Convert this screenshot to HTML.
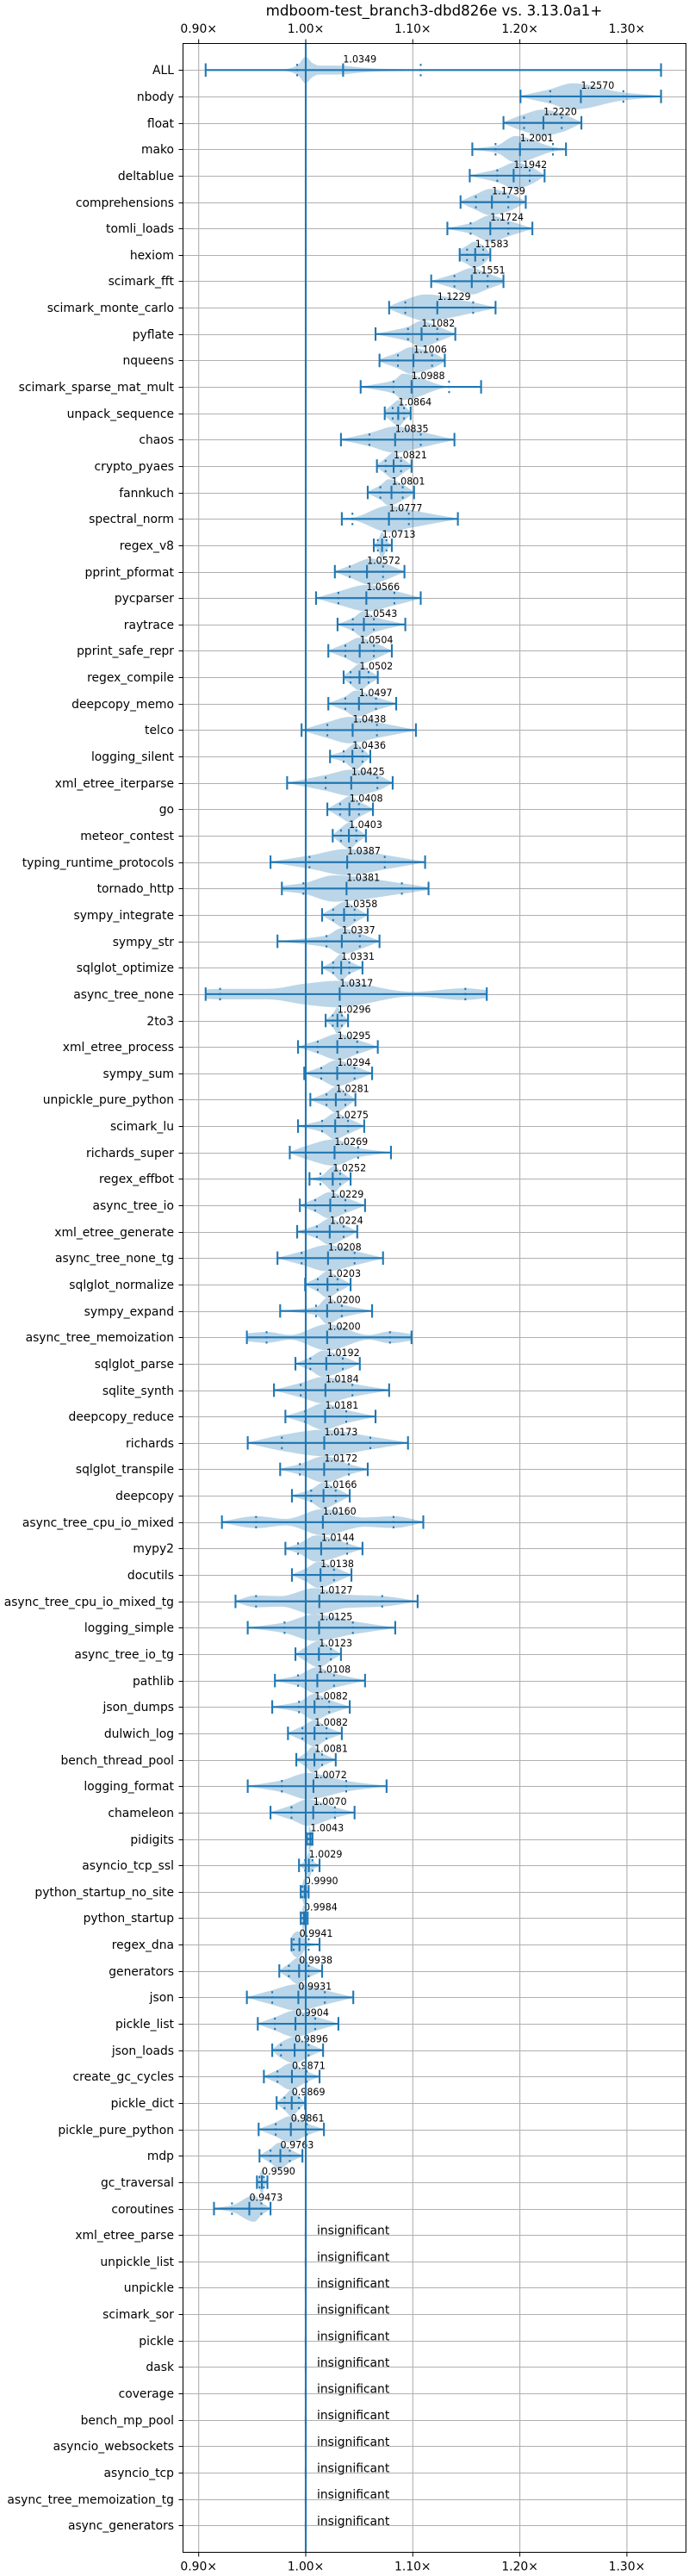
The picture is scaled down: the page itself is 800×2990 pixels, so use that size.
<!DOCTYPE html>
<html lang="en">
<head>
<meta charset="utf-8">
<title>mdboom-test_branch3-dbd826e vs. 3.13.0a1+</title>
<style>
html,body{margin:0;padding:0;background:#fff;width:800px;height:2990px;overflow:hidden}
svg{display:block}
text{font-family:"DejaVu Sans","Liberation Sans",sans-serif;fill:#000}
</style>
</head>
<body>
<svg id="chart" xmlns="http://www.w3.org/2000/svg" width="800" height="2990" viewBox="0 0 800 2990">
<rect x="0" y="0" width="800" height="2990" fill="#ffffff"/>
<text x="504" y="18" font-size="16.67" text-anchor="middle">mdboom-test_branch3-dbd826e vs. 3.13.0a1+</text>
</svg>
<script>
const benchmarkNames = ["ALL","nbody","float","mako","deltablue","comprehensions","tomli_loads","hexiom","scimark_fft","scimark_monte_carlo","pyflate","nqueens","scimark_sparse_mat_mult","unpack_sequence","chaos","crypto_pyaes","fannkuch","spectral_norm","regex_v8","pprint_pformat","pycparser","raytrace","pprint_safe_repr","regex_compile","deepcopy_memo","telco","logging_silent","xml_etree_iterparse","go","meteor_contest","typing_runtime_protocols","tornado_http","sympy_integrate","sympy_str","sqlglot_optimize","async_tree_none","2to3","xml_etree_process","sympy_sum","unpickle_pure_python","scimark_lu","richards_super","regex_effbot","async_tree_io","xml_etree_generate","async_tree_none_tg","sqlglot_normalize","sympy_expand","async_tree_memoization","sqlglot_parse","sqlite_synth","deepcopy_reduce","richards","sqlglot_transpile","deepcopy","async_tree_cpu_io_mixed","mypy2","docutils","async_tree_cpu_io_mixed_tg","logging_simple","async_tree_io_tg","pathlib","json_dumps","dulwich_log","bench_thread_pool","logging_format","chameleon","pidigits","asyncio_tcp_ssl","python_startup_no_site","python_startup","regex_dna","generators","json","pickle_list","json_loads","create_gc_cycles","pickle_dict","pickle_pure_python","mdp","gc_traversal","coroutines"];
const medians = [1.0349,1.2570,1.2220,1.2001,1.1942,1.1739,1.1724,1.1583,1.1551,1.1229,1.1082,1.1006,1.0988,1.0864,1.0835,1.0821,1.0801,1.0777,1.0713,1.0572,1.0566,1.0543,1.0504,1.0502,1.0497,1.0438,1.0436,1.0425,1.0408,1.0403,1.0387,1.0381,1.0358,1.0337,1.0331,1.0317,1.0296,1.0295,1.0294,1.0281,1.0275,1.0269,1.0252,1.0229,1.0224,1.0208,1.0203,1.0200,1.0200,1.0192,1.0184,1.0181,1.0173,1.0172,1.0166,1.0160,1.0144,1.0138,1.0127,1.0125,1.0123,1.0108,1.0082,1.0082,1.0081,1.0072,1.0070,1.0043,1.0029,0.9990,0.9984,0.9941,0.9938,0.9931,0.9904,0.9896,0.9871,0.9869,0.9861,0.9763,0.9590,0.9473];
const whiskerLow = [0.9065,1.2006,1.1847,1.1556,1.1532,1.1446,1.1323,1.1438,1.1172,1.0779,1.0652,1.0689,1.0513,1.0738,1.0329,1.0665,1.0579,1.0337,1.0636,1.0272,1.0096,1.0297,1.0211,1.0354,1.0211,0.9961,1.0227,0.9826,1.0202,1.0252,0.9671,0.9777,1.0153,0.9736,1.0153,0.9065,1.0186,0.9928,0.9986,1.0043,0.9928,0.9851,1.0035,0.9945,0.9920,0.9736,0.9994,0.9761,0.9450,0.9904,0.9703,0.9810,0.9458,0.9761,0.9871,0.9217,0.9810,0.9871,0.9344,0.9458,0.9904,0.9712,0.9687,0.9834,0.9912,0.9458,0.9671,1.0010,0.9937,0.9953,0.9953,0.9867,0.9753,0.9450,0.9552,0.9687,0.9609,0.9728,0.9560,0.9568,0.9544,0.9143];
const quartileLow = [0.9920,1.2284,1.2039,1.1773,1.1789,1.1589,1.1540,1.1507,1.1389,1.0930,1.0955,1.0861,1.0820,1.0812,1.0595,1.0746,1.0697,1.0436,1.0673,1.0411,1.0305,1.0440,1.0370,1.0419,1.0370,1.0202,1.0354,1.0186,1.0321,1.0329,1.0035,0.9978,1.0256,1.0194,1.0256,0.9200,1.0252,1.0112,1.0145,1.0194,1.0153,1.0002,1.0137,1.0088,1.0104,0.9961,1.0112,1.0096,0.9634,1.0043,0.9953,0.9994,0.9777,0.9945,1.0051,0.9536,0.9928,1.0002,0.9536,0.9802,1.0002,0.9928,0.9937,0.9969,1.0002,0.9777,0.9867,1.0027,0.9994,0.9969,0.9969,0.9888,0.9843,0.9687,0.9712,0.9769,0.9736,0.9802,0.9720,0.9671,0.9568,0.9311];
const quartileHigh = [1.1074,1.2967,1.2391,1.2309,1.2092,1.1892,1.1892,1.1658,1.1699,1.1564,1.1229,1.1180,1.1339,1.0918,1.1074,1.0890,1.0906,1.0963,1.0755,1.0722,1.0828,1.0636,1.0636,1.0587,1.0656,1.0665,1.0530,1.0669,1.0497,1.0472,1.0738,1.0898,1.0456,1.0505,1.0407,1.1491,1.0337,1.0481,1.0456,1.0370,1.0395,1.0489,1.0321,1.0370,1.0354,1.0456,1.0297,1.0337,1.0787,1.0346,1.0436,1.0378,1.0603,1.0403,1.0280,1.0820,1.0387,1.0264,1.0714,1.0440,1.0235,1.0264,1.0219,1.0194,1.0153,1.0378,1.0272,1.0051,1.0063,1.0002,0.9994,1.0027,1.0027,1.0178,1.0088,1.0027,1.0010,0.9937,1.0010,0.9851,0.9609,0.9585];
const whiskerHigh = [1.3319,1.3319,1.2575,1.2431,1.2231,1.2055,1.2117,1.1724,1.1847,1.1773,1.1397,1.1299,1.1638,1.0980,1.1389,1.0988,1.1012,1.1421,1.0804,1.0922,1.1074,1.0930,1.0804,1.0673,1.0845,1.1029,1.0603,1.0812,1.0628,1.0562,1.1115,1.1147,1.0579,1.0689,1.0530,1.1691,1.0395,1.0673,1.0620,1.0464,1.0546,1.0796,1.0419,1.0554,1.0481,1.0722,1.0419,1.0620,1.0988,1.0505,1.0779,1.0652,1.0955,1.0579,1.0411,1.1098,1.0530,1.0427,1.1045,1.0836,1.0329,1.0554,1.0411,1.0337,1.0280,1.0755,1.0456,1.0063,1.0129,1.0027,1.0018,1.0129,1.0153,1.0444,1.0305,1.0162,1.0129,0.9994,1.0170,0.9969,0.9642,0.9671];
const densityMode = [1.0000,1.2493,1.2207,1.1960,1.1962,1.1724,1.1724,1.1573,1.1552,1.1115,1.1082,1.0978,1.0910,1.0869,1.0836,1.0816,1.0775,1.0775,1.0713,1.0611,1.0571,1.0542,1.0501,1.0501,1.0468,1.0407,1.0468,1.0427,1.0415,1.0407,1.0387,1.0264,1.0366,1.0337,1.0325,1.0284,1.0296,1.0305,1.0284,1.0284,1.0272,1.0264,1.0272,1.0223,1.0223,1.0202,1.0202,1.0202,1.0202,1.0162,1.0162,1.0162,1.0162,1.0174,1.0162,1.0162,1.0100,1.0121,1.0080,1.0080,1.0121,1.0100,1.0080,1.0080,1.0067,1.0018,1.0018,1.0027,1.0031,0.9986,0.9978,0.9924,0.9928,0.9916,0.9896,0.9896,0.9855,0.9867,0.9855,0.9753,0.9597,0.9519];
const densityAtLow = [0,.05,.05,.05,.03,.05,.03,.4,.03,.1,.02,.1,.01,.2,.03,.1,.07,.05,.02,.03,.02,.01,.03,.1,.03,.01,.1,.01,.02,.05,.03,.2,.03,.01,.03,.35,.05,.02,.02,.02,.02,.05,.02,.02,.03,.02,.05,.01,.3,.02,.02,.03,.03,.05,.03,.05,.05,.03,.05,.02,.03,.03,.03,.05,.05,.02,.03,.1,.03,.1,.1,.6,.05,.02,.03,.03,.03,.05,.02,.03,.1,.03];
const densityAtQ1 = [.35,.55,.65,.25,.5,.6,.4,.7,.55,.6,.55,.6,.5,.7,.5,.6,.55,.1,.35,.45,.5,.5,.55,.55,.55,.6,.4,.6,.6,.6,.5,.4,.55,.45,.5,.4,.5,.5,.5,.55,.45,.5,.2,.5,.5,.5,.55,.3,.42,.5,.55,.5,.6,.4,.5,.45,.35,.5,.45,.4,.55,.4,.4,.55,.55,.45,.55,.6,.35,.6,.7,.85,.55,.55,.5,.6,.5,.55,.55,.55,.55,.25];
const densityAtQ3 = [.05,.3,.7,.18,.7,.7,.6,.7,.6,.4,.6,.6,.05,.6,.6,.65,.6,.7,.35,.7,.55,.6,.65,.55,.5,.6,.6,.6,.6,.6,.55,.4,.6,.6,.5,.45,.55,.55,.55,.6,.6,.35,.6,.6,.55,.55,.6,.5,.45,.55,.5,.5,.5,.4,.6,.45,.4,.6,.4,.5,.5,.55,.55,.5,.5,.4,.4,.6,.35,.6,.5,.15,.5,.55,.55,.5,.4,.5,.45,.5,.4,.5];
const densityAtHigh = [0,.05,.05,.03,.05,.05,.03,.1,.15,.03,.03,.1,.03,.1,.02,.08,.05,.02,.02,.02,.03,.01,.02,.1,.03,.02,.03,.02,.05,.05,.03,.1,.03,.03,.03,.3,.05,.03,.02,.02,.03,.02,.02,.02,.02,.02,.05,.02,.25,.02,.03,.03,.03,.03,.03,.05,.03,.03,.03,.02,.03,.02,.03,.05,.03,.02,.03,.1,.03,.1,.1,.02,.03,.02,.02,.03,.02,.05,.02,.03,.05,.03];
const extraDensityValues = {
  0: [0.9400,0.9800,0.9920,1.0000,1.0060,1.0120,1.0350,1.0500,1.0700,1.1000,1.1300],
  35: [0.9065,0.9200,0.9650,1.0000,1.0284,1.1000,1.1491,1.1691],
  48: [0.9450,0.9634,0.9855,1.0202,1.0590,1.0787,1.0988],
  55: [0.9217,0.9536,0.9815,1.0162,1.0550,1.0820,1.1098],
  58: [0.9344,0.9536,0.9770,1.0080,1.0385,1.0714,1.1045]
};
const extraDensityWidths = {
  0: [0,.06,.35,1,.55,.35,.33,.2,.1,.05,0],
  35: [.35,.4,.4,.8,1,.17,.45,.3],
  48: [.3,.42,.18,1,.18,.45,.25],
  55: [.05,.45,.25,1,.35,.45,.05],
  58: [.05,.45,.4,1,.5,.4,.03]
};
const insignificantNames = ["xml_etree_parse","unpickle_list","unpickle","scimark_sor","pickle","dask","coverage","bench_mp_pool","asyncio_websockets","asyncio_tcp","async_tree_memoization_tg","async_generators"];
const insignificantSpan = [0.9988,1.0000,1.0012];
const insignificantLabel = "insignificant";
const referenceValue = 1.0;
const xTickValues = [0.9,1.0,1.1,1.2,1.3];
const xTickLabels = ["0.90×","1.00×","1.10×","1.20×","1.30×"];

const SVG_NS = "http://www.w3.org/2000/svg";
const svg = document.getElementById("chart");
const plot = {left:212.5, right:796.5, top:50.5, bottom:2962.5};
const BLUE = "#1f77b4";
const rowCount = benchmarkNames.length + insignificantNames.length;
function xScale(v){ return 355 + (v - 1) * 1243; }
function yScale(i){ return 81.3 + i * (2931.3 - 81.3) / (rowCount - 1); }
const halfRow = (2931.3 - 81.3) / (rowCount - 1) / 2;

function make(tag, attrs, parent){
  const el = document.createElementNS(SVG_NS, tag);
  for (const k in attrs) el.setAttribute(k, attrs[k]);
  (parent || svg).appendChild(el);
  return el;
}
function violinPath(points){
  const pts = points.slice().sort((a,b)=>a[0]-b[0]);
  const xs = pts.map(p=>xScale(p[0]));
  const hs = pts.map(p=>p[1]*halfRow);
  const n = xs.length;
  const d = [];
  for (let k=0;k<n-1;k++) d.push((hs[k+1]-hs[k])/Math.max(xs[k+1]-xs[k],1e-6));
  const m = [d[0]];
  for (let k=1;k<n-1;k++) m.push(d[k-1]*d[k] <= 0 ? 0 : 2*d[k-1]*d[k]/(d[k-1]+d[k]));
  m.push(d[n-2]);
  const curve = (sign)=>{
    let s = "";
    for (let k=0;k<n-1;k++){
      const dx = xs[k+1]-xs[k];
      s += "C"+(xs[k]+dx/3).toFixed(2)+" "+(sign*(hs[k]+m[k]*dx/3)).toFixed(2)+" "+(xs[k+1]-dx/3).toFixed(2)+" "+(sign*(hs[k+1]-m[k+1]*dx/3)).toFixed(2)+" "+xs[k+1].toFixed(2)+" "+(sign*hs[k+1]).toFixed(2);
    }
    return s;
  };
  const curveBack = ()=>{
    let s = "";
    for (let k=n-1;k>0;k--){
      const dx = xs[k]-xs[k-1];
      s += "C"+(xs[k]-dx/3).toFixed(2)+" "+(hs[k]-m[k]*dx/3).toFixed(2)+" "+(xs[k-1]+dx/3).toFixed(2)+" "+(hs[k-1]+m[k-1]*dx/3).toFixed(2)+" "+xs[k-1].toFixed(2)+" "+hs[k-1].toFixed(2);
    }
    return s;
  };
  return "M"+xs[0].toFixed(2)+" "+(-hs[0]).toFixed(2)+curve(-1)+"L"+xs[n-1].toFixed(2)+" "+hs[n-1].toFixed(2)+curveBack()+"Z";
}

/* grid */
const gridGroup = make("g", {});


xTickValues.forEach((v)=>{
  const x = xScale(v);
  const line = make("line", {x1:x,x2:x,y1:plot.top,y2:plot.bottom,stroke:"#b0b0b0","stroke-width":1.1}, gridGroup);
  
  
});
for (let i=0;i<rowCount;i++){
  const y = Math.round(yScale(i))+0.5;
  const line = make("line", {x1:plot.left,x2:plot.right,y1:y,y2:y,stroke:"#b0b0b0","stroke-width":1.1}, gridGroup);
  
  
}

/* significant benchmarks */
benchmarkNames.forEach((name,i)=>{
  const y = yScale(i);
  const g = make("g", {transform:"translate(0 "+y.toFixed(2)+")"});
  
  
  let points;
  if (extraDensityValues[i]){
    points = extraDensityValues[i].map((v,k)=>[v, extraDensityWidths[i][k]]);
  } else {
    points = [[whiskerLow[i],densityAtLow[i]],[quartileLow[i],densityAtQ1[i]],[densityMode[i],1],[quartileHigh[i],densityAtQ3[i]],[whiskerHigh[i],densityAtHigh[i]]];
  }
  const body = make("path", {d:violinPath(points),fill:BLUE,"fill-opacity":0.3}, g);
  
  
  const x0 = xScale(whiskerLow[i]), x1 = xScale(whiskerHigh[i]);
  const bar = make("line", {x1:x0,x2:x1,y1:0,y2:0,stroke:BLUE,"stroke-width":2.1}, g);
  
  
  [whiskerLow[i],whiskerHigh[i]].forEach((v)=>{
    const cap = make("line", {x1:xScale(v),x2:xScale(v),y1:-7.8,y2:7.8,stroke:BLUE,"stroke-width":2.1}, g);
    
    
  });
  const med = make("line", {x1:xScale(medians[i]),x2:xScale(medians[i]),y1:-7.8,y2:7.8,stroke:BLUE,"stroke-width":2.1}, g);
  
  
  [quartileLow[i],quartileHigh[i]].forEach((v)=>{
    const q = make("line", {x1:xScale(v),x2:xScale(v),y1:-7.2,y2:7.2,stroke:BLUE,"stroke-width":2,"stroke-dasharray":"2.4 3.6"}, g);
    
    
  });
  const t = make("text", {x:xScale(medians[i]),y:-9,"font-size":11.1}, g);
  
  
  t.textContent = medians[i].toFixed(4);
});

/* insignificant benchmarks */
insignificantNames.forEach((name,k)=>{
  const i = benchmarkNames.length + k;
  const y = yScale(i);
  const g = make("g", {transform:"translate(0 "+y.toFixed(2)+")"});
  
  
  const body = make("path", {d:violinPath([[insignificantSpan[0],0],[insignificantSpan[1],1],[insignificantSpan[2],0]]),fill:BLUE,"fill-opacity":0.3}, g);
  
  
  const t = make("text", {x:368,y:-0.5,"font-size":13.89}, g);
  
  
  t.textContent = insignificantLabel;
});

/* reference line */
const refLine = make("line", {x1:xScale(referenceValue),x2:xScale(referenceValue),y1:plot.top,y2:plot.bottom,stroke:BLUE,"stroke-width":2.1});



/* y labels and ticks */
benchmarkNames.concat(insignificantNames).forEach((name,i)=>{
  const y = Math.round(yScale(i))+0.5;
  const tick = make("line", {x1:plot.left-5,x2:plot.left,y1:y,y2:y,stroke:"#000","stroke-width":1});
  
  
  const t = make("text", {x:202,y:y+4.5,"font-size":13.89,"text-anchor":"end"});
  
  
  t.textContent = name;
});

/* x ticks (top and bottom) */
xTickValues.forEach((v,k)=>{
  const x = xScale(v);
  const topTick = make("line", {x1:x,x2:x,y1:plot.top-5,y2:plot.top,stroke:"#000","stroke-width":1});
  
  
  const botTick = make("line", {x1:x,x2:x,y1:plot.bottom,y2:plot.bottom+5,stroke:"#000","stroke-width":1});
  
  
  const tt = make("text", {x:x,y:38,"font-size":13.89,"text-anchor":"middle"});
  
  
  tt.textContent = xTickLabels[k];
  const bt = make("text", {x:x,y:2983.5,"font-size":13.89,"text-anchor":"middle"});
  
  
  bt.textContent = xTickLabels[k];
});

/* frame */
const frame = make("rect", {x:plot.left,y:plot.top,width:plot.right-plot.left,height:plot.bottom-plot.top,fill:"none",stroke:"#000","stroke-width":1});


</script>
</body>
</html>
